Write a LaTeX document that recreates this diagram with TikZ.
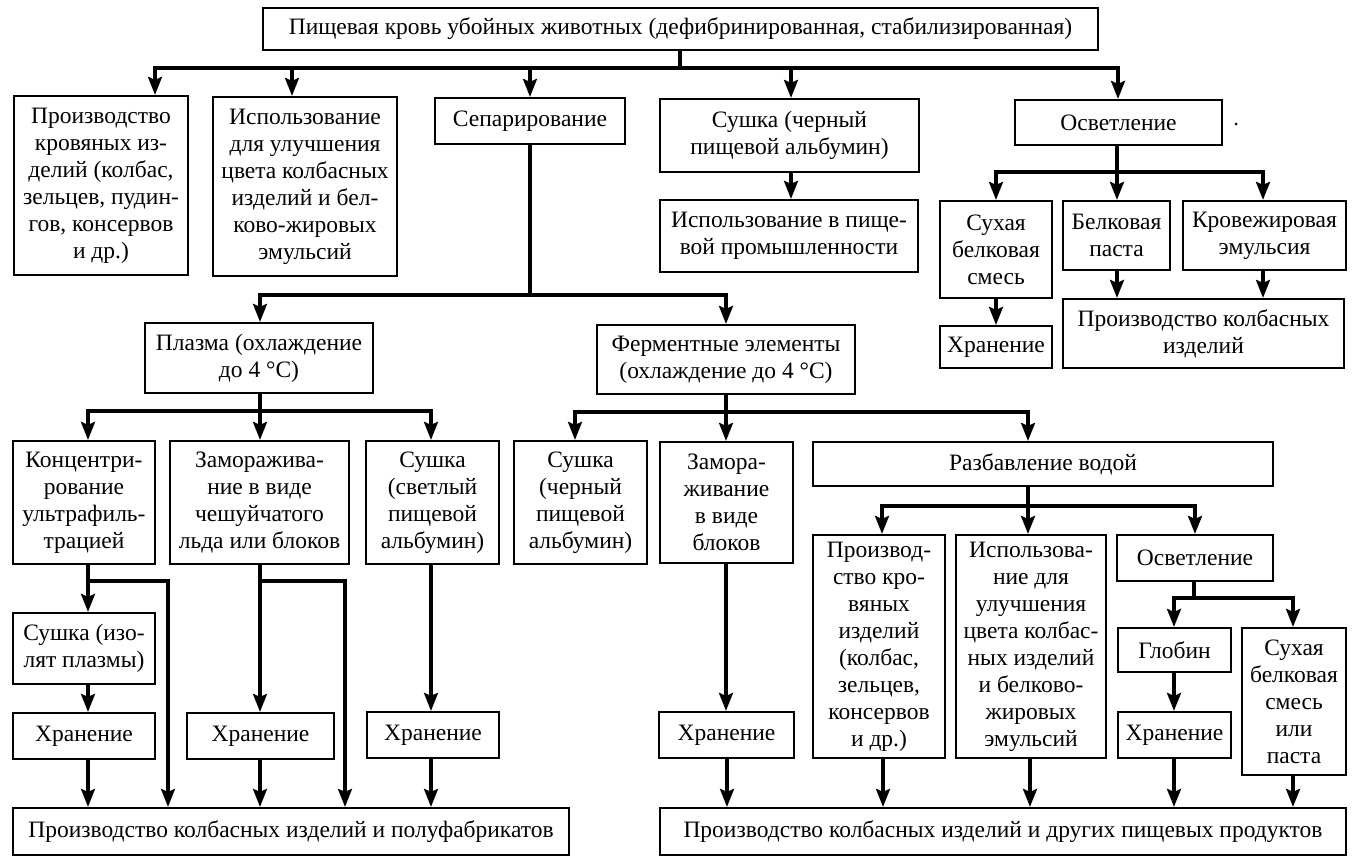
\documentclass[tikz,border=0pt]{standalone}
\usepackage{fontspec}
\setmainfont{Liberation Serif}
\usetikzlibrary{arrows.meta}
\newcommand\txtsz{\fontsize{23.5}{27}\selectfont}
\newcommand\bx[6]{\node[box,minimum width={(#4)-(#2)},minimum height={(#5)-(#3)}] (#1) at ({((#2)+(#4))/2},{((#3)+(#5))/2}) {#6};}
\begin{document}
\begin{tikzpicture}[x=1pt,y=-1pt,
  box/.style={draw,line width=2.2pt,inner sep=1pt,align=center,font=\txtsz},
  ln/.style={line width=3.2pt},
  arr/.style={ln,-{Stealth[length=18pt,width=14pt,inset=3pt]}}]
\useasboundingbox (0,0) rectangle (1356,863);
% boxes
\bx{top}{263}{8}{1098}{50}{Пищевая кровь убойных животных (дефибринированная, стабилизированная)}
\bx{A}{14}{96}{188}{275}{Производство\\кровяных из-\\делий (колбас,\\зельцев, пудин-\\гов, консервов\\и др.)}
\bx{B}{213}{97}{397}{276}{Использование\\для улучшения\\цвета колбасных\\изделий и бел-\\ково-жировых\\эмульсий}
\bx{C}{435}{98}{625}{144}{Сепарирование}
\bx{D}{660}{99}{919}{172}{Сушка (черный\\пищевой альбумин)}
\bx{E}{1015}{100}{1222}{145}{Осветление}
\bx{F}{660}{200}{918}{272}{Использование в пище-\\вой промышленности}
\bx{G}{940}{201}{1052}{298}{Сухая\\белковая\\смесь}
\bx{H}{1063}{201}{1170}{270}{Белковая\\паста}
\bx{I}{1183}{201}{1346}{270}{Кровежировая\\эмульсия}
\bx{J}{1063}{299}{1344}{368}{Производство колбасных\\изделий}
\bx{K}{940}{326}{1052}{368}{Хранение}
\bx{L}{145}{323}{373}{393}{Плазма (охлаждение\\до 4 °C)}
\bx{M}{597}{325}{855}{394}{Ферментные элементы\\(охлаждение до 4 °C)}
\bx{N}{13}{441}{155}{564}{Концентри-\\рование\\ультрафиль-\\трацией}
\bx{O}{170}{441}{349}{564}{Заморажива-\\ние в виде\\чешуйчатого\\льда или блоков}
\bx{P}{366}{441}{499}{564}{Сушка\\(светлый\\пищевой\\альбумин)}
\bx{Q}{514}{441}{647}{564}{Сушка\\(черный\\пищевой\\альбумин)}
\bx{R}{660}{442}{793}{563}{Замора-\\живание\\в виде\\блоков}
\bx{S}{813}{442}{1273}{486}{Разбавление водой}
\bx{T}{813}{535}{945}{758}{Производ-\\ство кро-\\вяных\\изделий\\(колбас,\\зельцев,\\консервов\\и др.)}
\bx{U}{956}{535}{1106}{758}{Использова-\\ние для\\улучшения\\цвета колбас-\\ных изделий\\и белково-\\жировых\\эмульсий}
\bx{V}{1117}{535}{1273}{581}{Осветление}
\bx{W}{1118}{628}{1231}{672}{Глобин}
\bx{X}{1242}{628}{1346}{775}{Сухая\\белковая\\смесь\\или\\паста}
\bx{Y}{1118}{712}{1231}{758}{Хранение}
\bx{Z}{659}{712}{794}{758}{Хранение}
\bx{SI}{13}{613}{155}{684}{Сушка (изо-\\лят плазмы)}
\bx{H1}{13}{713}{155}{759}{Хранение}
\bx{H2}{187}{713}{334}{759}{Хранение}
\bx{H3}{367}{712}{499}{758}{Хранение}
\bx{BL}{13}{808}{569}{855}{Производство колбасных изделий и полуфабрикатов}
\bx{BR}{660}{808}{1346}{855}{Производство колбасных изделий и других пищевых продуктов}
% stray dot
\fill (1236,124) circle[radius=1.5pt];
% junction coordinates
\coordinate (m0) at (680,68);
\coordinate (mA) at (155,68);
\coordinate (mB) at (292,68);
\coordinate (mC) at (530,68);
\coordinate (mD) at (791,68);
\coordinate (mE) at (1118,68);
\coordinate (e0) at (1117,172);
\coordinate (eG) at (996,172);
\coordinate (eI) at (1263,172);
\coordinate (s0) at (530,295);
\coordinate (sL) at (260,295);
\coordinate (sM) at (726,295);
\coordinate (p0) at (260,411);
\coordinate (pN) at (88,411);
\coordinate (pP) at (431,411);
\coordinate (f0) at (726,412);
\coordinate (fQ) at (575,412);
\coordinate (fS) at (1028,412);
\coordinate (r0) at (1028,506);
\coordinate (rT) at (882,506);
\coordinate (rV) at (1195,506);
\coordinate (o0) at (1194,598);
\coordinate (oW) at (1174,598);
\coordinate (oX) at (1293,598);
\coordinate (n1) at (88,581);
\coordinate (n2) at (168,581);
\coordinate (q1) at (260,581);
\coordinate (q2) at (345,581);
\coordinate (t1) at (431,600);
\coordinate (bT) at (883,600);
\coordinate (bU) at (1030,600);
\coordinate (bZ) at (727,600);
% main
\draw[ln] (top.south -| m0) -- (m0);
\draw[arr] (m0) -- (mA) -- (mA |- A.north);
\draw[arr] (m0) -- (mE) -- (mE |- E.north);
\draw[arr] (mB) -- (mB |- B.north);
\draw[arr] (mC) -- (mC |- C.north);
\draw[arr] (mD) -- (mD |- D.north);
\draw[arr] (D.south -| mD) -- (F.north -| mD);
% right osvetlenie
\draw[ln] (E.south -| e0) -- (e0);
\draw[arr] (e0) -- (eG) -- (eG |- G.north);
\draw[arr] (e0) -- (eI) -- (eI |- I.north);
\draw[arr] (e0) -- (e0 |- H.north);
\draw[arr] (H.south -| e0) -- (J.north -| e0);
\draw[arr] (I.south -| eI) -- (J.north -| eI);
\draw[arr] (G.south -| eG) -- (K.north -| eG);
% separation
\draw[ln] (C.south) -- (s0);
\draw[arr] (s0) -- (sL) -- (sL |- L.north);
\draw[arr] (s0) -- (sM) -- (sM |- M.north);
% plasma
\draw[ln] (L.south -| p0) -- (p0);
\draw[arr] (p0) -- (pN) -- (pN |- N.north);
\draw[arr] (p0) -- (pP) -- (pP |- P.north);
\draw[arr] (p0) -- (p0 |- O.north);
% ferment
\draw[ln] (M.south -| f0) -- (f0);
\draw[arr] (f0) -- (fQ) -- (fQ |- Q.north);
\draw[arr] (f0) -- (fS) -- (fS |- S.north);
\draw[arr] (f0) -- (f0 |- R.north);
% razbavlenie
\draw[ln] (S.south -| r0) -- (r0);
\draw[arr] (r0) -- (rT) -- (rT |- T.north);
\draw[arr] (r0) -- (rV) -- (rV |- V.north);
\draw[arr] (r0) -- (r0 |- U.north);
% osvetlenie 2
\draw[ln] (V.south -| o0) -- (o0);
\draw[arr] (o0) -- (oW) -- (oW |- W.north);
\draw[arr] (o0) -- (oX) -- (oX |- X.north);
\draw[arr] (W.south -| oW) -- (Y.north -| oW);
\draw[arr] (Y.south -| oW) -- (BR.north -| oW);
\draw[arr] (X.south -| oX) -- (BR.north -| oX);
\draw[arr] (T.south -| bT) -- (BR.north -| bT);
\draw[arr] (U.south -| bU) -- (BR.north -| bU);
\draw[arr] (R.south -| sM) -- (Z.north -| sM);
\draw[arr] (Z.south -| bZ) -- (BR.north -| bZ);
% left bottom
\draw[arr] (N.south -| n1) -- (n1 |- SI.north);
\draw[arr] (n1) -- (n2) -- (n2 |- BL.north);
\draw[arr] (SI.south -| n1) -- (H1.north -| n1);
\draw[arr] (H1.south -| n1) -- (BL.north -| n1);
\draw[arr] (O.south -| q1) -- (q1 |- H2.north);
\draw[arr] (q1) -- (q2) -- (q2 |- BL.north);
\draw[arr] (H2.south -| q1) -- (BL.north -| q1);
\draw[arr] (P.south -| t1) -- (H3.north -| t1);
\draw[arr] (H3.south -| t1) -- (BL.north -| t1);
\end{tikzpicture}
\end{document}
